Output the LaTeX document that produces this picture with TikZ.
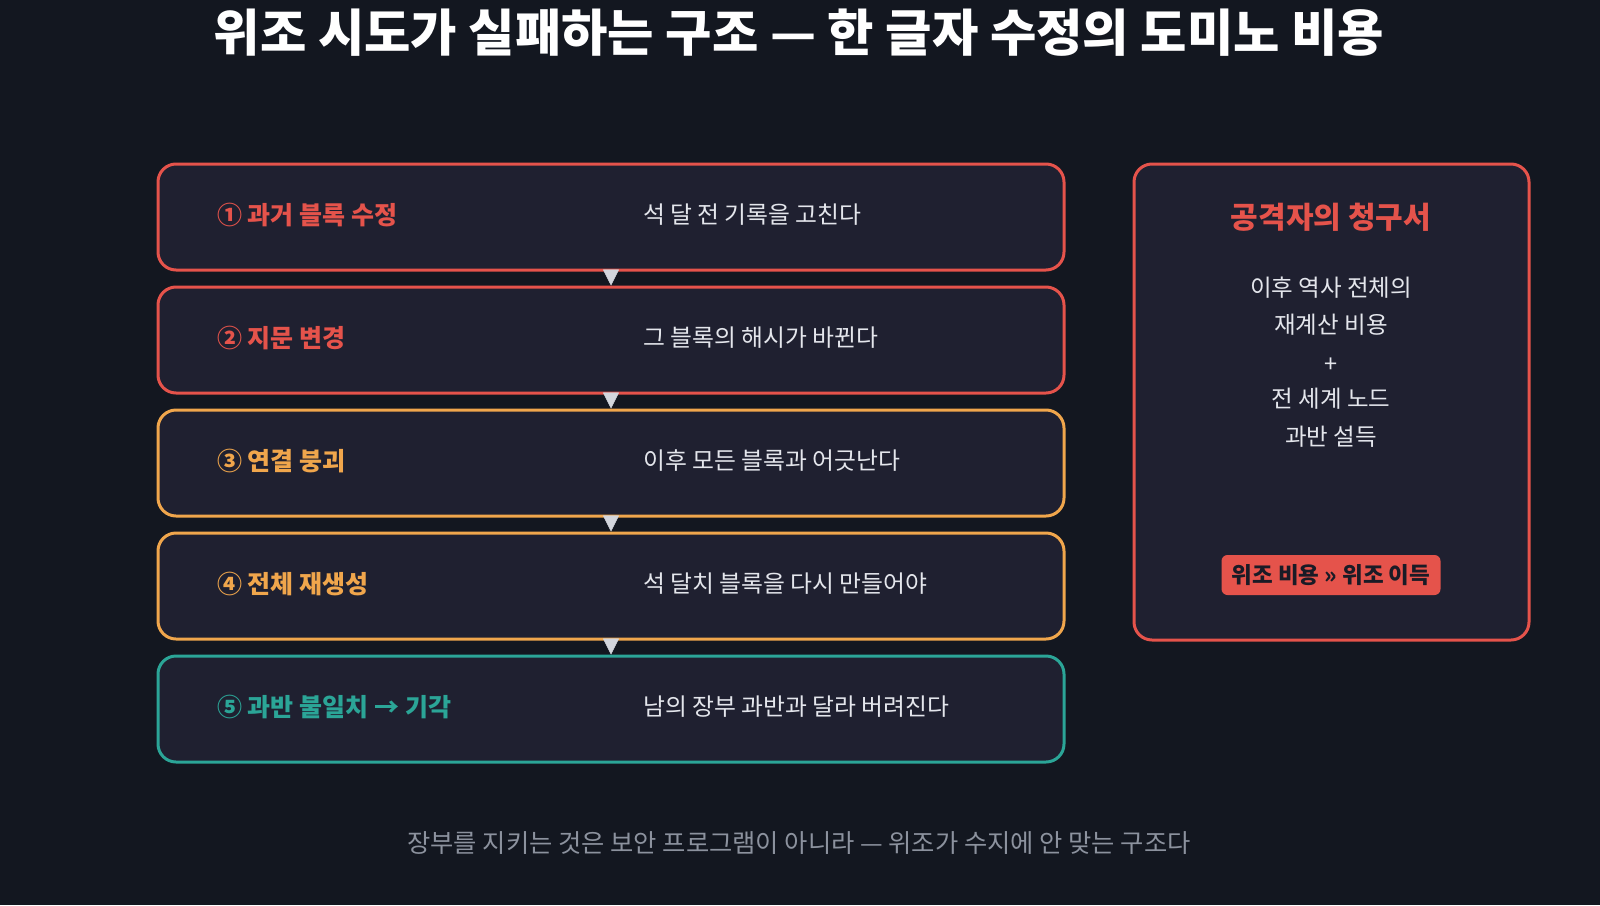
\documentclass[tikz,border=0pt]{standalone}
\usepackage{fontspec}
\setmainfont{Noto Sans CJK KR}
\usetikzlibrary{arrows.meta}
\definecolor{bgdark}{HTML}{131720}
\definecolor{boxfill}{HTML}{1F2030}
\definecolor{redline}{HTML}{E5534B}
\definecolor{orangeline}{HTML}{F0A64C}
\definecolor{tealline}{HTML}{2BA597}
\definecolor{softwhite}{HTML}{E4E6EC}
\definecolor{footgray}{HTML}{8C929E}
\definecolor{tipgray}{HTML}{D3D6DD}
\definecolor{badgetext}{HTML}{1A1B26}
\begin{document}
\begin{tikzpicture}[x=1pt,y=-1pt]
      \tikzset{stagebox/.style={draw, rounded corners=18pt, line width=3pt, fill=boxfill, minimum width=906pt, minimum height=106pt, inner sep=0pt},
               headtext/.style={anchor=west, inner sep=0pt, font=\fontsize{25}{29}\selectfont\bfseries},
               notetext/.style={anchor=west, inner sep=0pt, text=softwhite, font=\fontsize{23.8}{28}\selectfont},
               billtext/.style={inner sep=0pt, text=softwhite, font=\fontsize{23.5}{28}\selectfont},
               flowtip/.style={-{Triangle[width=16pt,length=16pt]}, color=tipgray, line width=0.4pt}}
      \useasboundingbox[fill=bgdark] (0,0) rectangle (1600,905);
%% Title
      	\node[text=white, font=\fontsize{50.4}{56}\selectfont\bfseries] (title) at (799,33) {위조 시도가 실패하는 구조 — 한 글자 수정의 도미노 비용};
%% Stages
      	\node[stagebox, draw=redline] (b1) at (611,217) {};
      	\node[stagebox, draw=redline] (b2) at (611,340) {};
      	\node[stagebox, draw=orangeline] (b3) at (611,463) {};
      	\node[stagebox, draw=orangeline] (b4) at (611,586) {};
      	\node[stagebox, draw=tealline] (b5) at (611,709) {};
      	\node[headtext, text=redline] (h1) at (217,215) {① 과거 블록 수정};
      	\node[headtext, text=redline] (h2) at (217,338) {② 지문 변경};
      	\node[headtext, text=orangeline] (h3) at (217,461) {③ 연결 붕괴};
      	\node[headtext, text=orangeline] (h4) at (217,584) {④ 전체 재생성};
      	\node[headtext, text=tealline] (h5) at (217,707) {⑤ 과반 불일치 → 기각};
      	\node[notetext] (d1) at (643,215) {석 달 전 기록을 고친다};
      	\node[notetext] (d2) at (643,338) {그 블록의 해시가 바뀐다};
      	\node[notetext] (d3) at (643,461) {이후 모든 블록과 어긋난다};
      	\node[notetext] (d4) at (643,584) {석 달치 블록을 다시 만들어야};
      	\node[notetext] (d5) at (643,707) {남의 장부 과반과 달라 버려진다};
%% Bill
      	\node[stagebox, draw=redline, minimum width=395pt, minimum height=476pt] (bill) at (1331.5,402) {};
      	\node[text=redline, inner sep=0pt, font=\fontsize{30}{35}\selectfont\bfseries] (billhead) at (1331,217) {공격자의 청구서};
      	\node[billtext] (c1) at (1331,288) {이후 역사 전체의};
      	\node[billtext] (c2) at (1331,325) {재계산 비용};
      	\node[billtext] (c3) at (1331,365) {+};
      	\node[billtext] (c4) at (1331,399) {전 세계 노드};
      	\node[billtext] (c5) at (1331,437) {과반 설득};
      	\node[fill=redline, rounded corners=6pt, minimum width=219pt, minimum height=40pt, inner sep=0pt, text=badgetext, font=\fontsize{22.5}{26}\selectfont\bfseries] (verdict) at (1331,575) {위조 비용 » 위조 이득};
%% Footer
      	\node[text=footgray, font=\fontsize{25.3}{30}\selectfont] (moral) at (799,843) {장부를 지키는 것은 보안 프로그램이 아니라 — 위조가 수지에 안 맞는 구조다};
%Edges
		\path[flowtip] (b1) edge (b2);
		\path[flowtip] (b2) edge (b3);
		\path[flowtip] (b3) edge (b4);
		\path[flowtip] (b4) edge (b5);
	\end{tikzpicture}
\end{document}
